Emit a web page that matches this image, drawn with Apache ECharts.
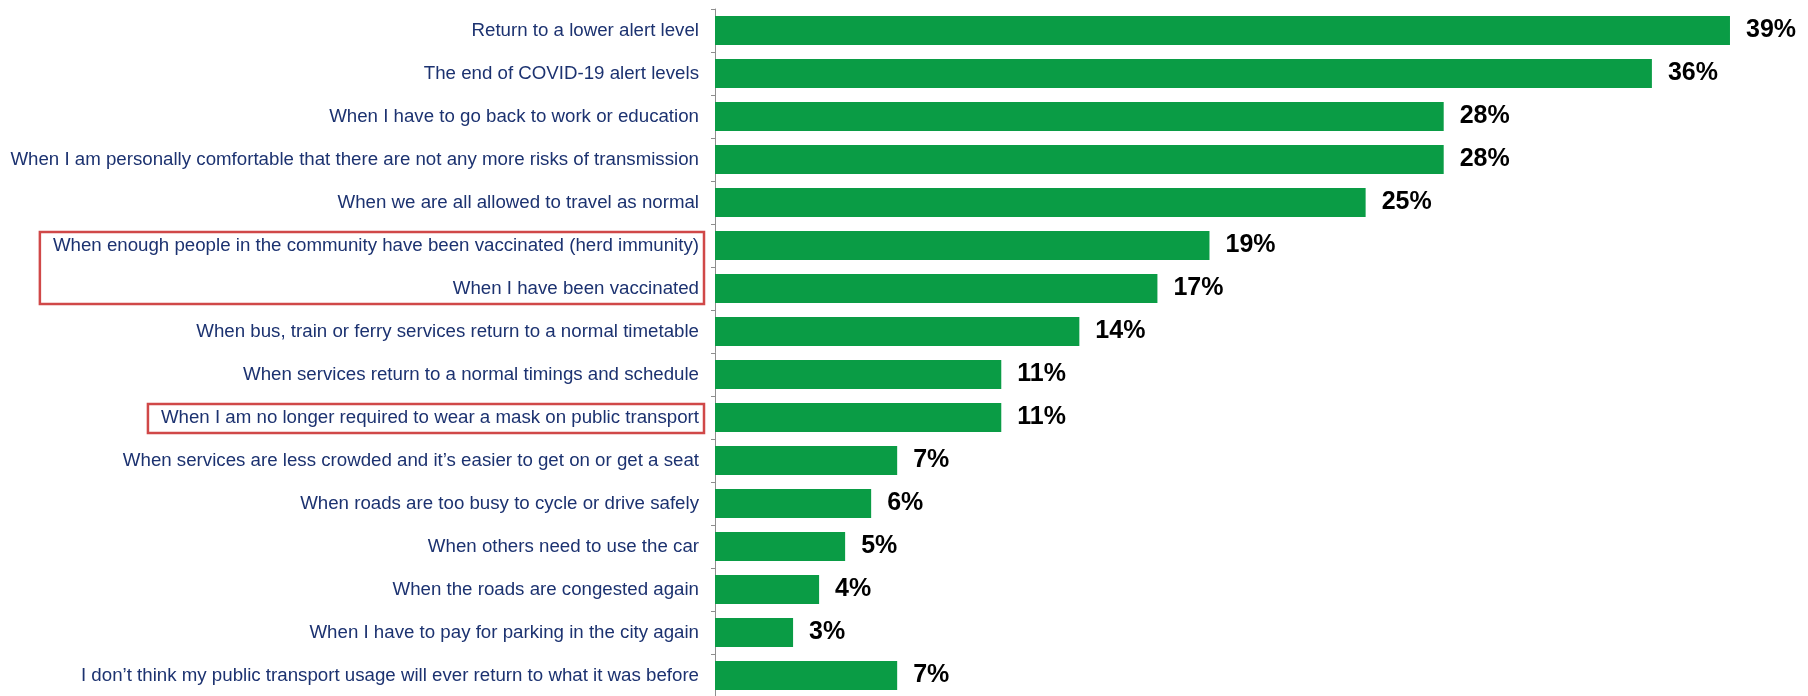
<!DOCTYPE html>
<html>
<head>
<meta charset="utf-8">
<script src="https://cdn.jsdelivr.net/npm/echarts@6/dist/echarts.min.js"></script>
<style>
  html, body { margin: 0; padding: 0; background: #ffffff; }
  #chart { width: 1808px; height: 696px; }
</style>
</head>
<body>
<div id="chart"></div>
<script>
// Reasons for returning to previous public transport usage (% of respondents)
const categories = [
  'Return to a lower alert level',
  'The end of COVID-19 alert levels',
  'When I have to go back to work or education',
  'When I am personally comfortable that there are not any more risks of transmission',
  'When we are all allowed to travel as normal',
  'When enough people in the community have been vaccinated (herd immunity)',
  'When I have been vaccinated',
  'When bus, train or ferry services return to a normal timetable',
  'When services return to a normal timings and schedule',
  'When I am no longer required to wear a mask on public transport',
  'When services are less crowded and it\u2019s easier to get on or get a seat',
  'When roads are too busy to cycle or drive safely',
  'When others need to use the car',
  'When the roads are congested again',
  'When I have to pay for parking in the city again',
  'I don\u2019t think my public transport usage will ever return to what it was before'
];
const values = [39, 36, 28, 28, 25, 19, 17, 14, 11, 11, 7, 6, 5, 4, 3, 7];

// Highlighted groups of rows (first index, last index)
const highlightGroups = [[5, 6], [9, 9]];

const LABEL_SIZE = 18.7;
const LABEL_FAMILY = '"Liberation Sans", Arial, sans-serif';
const LABEL_MARGIN = 16;

const chart = echarts.init(document.getElementById('chart'), null, { renderer: 'canvas' });

chart.setOption({
  animation: false,
  backgroundColor: '#ffffff',
  grid: { left: 715, right: 52, top: 9, height: 688, outerBoundsMode: 'none' },
  xAxis: {
    type: 'value', min: 0, max: 40, show: false,
    splitLine: { show: false }
  },
  yAxis: {
    type: 'category',
    inverse: true,
    data: categories,
    axisLine: { show: true, lineStyle: { color: '#8e8e8e', width: 1 } },
    axisTick: { show: true, length: 4, lineStyle: { color: '#8e8e8e' } },
    axisLabel: {
      margin: LABEL_MARGIN,
      color: '#1c3270',
      fontSize: LABEL_SIZE,
      fontFamily: LABEL_FAMILY
    }
  },
  series: [{
    type: 'bar',
    data: values,
    barCategoryGap: '33%',
    itemStyle: { color: '#0a9c45' },
    label: {
      show: true,
      position: 'right',
      distance: 16,
      formatter: '{c}%',
      color: '#000000',
      fontWeight: 'bold',
      fontSize: 25,
      fontFamily: LABEL_FAMILY
    }
  }]
});

// Red outline boxes around highlighted category labels
const ctx = document.createElement('canvas').getContext('2d');
ctx.font = LABEL_SIZE + 'px ' + LABEL_FAMILY;
const axisX = chart.convertToPixel({ gridIndex: 0 }, [0, 0])[0];
const textRight = axisX - LABEL_MARGIN;

const boxes = highlightGroups.map(function (g) {
  let maxW = 0;
  for (let i = g[0]; i <= g[1]; i++) {
    maxW = Math.max(maxW, ctx.measureText(categories[i]).width);
  }
  const yTop = chart.convertToPixel({ yAxisIndex: 0 }, g[0]) - 13.5;
  const yBot = chart.convertToPixel({ yAxisIndex: 0 }, g[1]) + 15.5;
  const x0 = textRight - maxW - 13;
  return {
    type: 'rect',
    shape: { x: x0, y: yTop, width: textRight + 5 - x0, height: yBot - yTop },
    style: { fill: 'none', stroke: '#d04848', lineWidth: 2.5 },
    z: 10
  };
});

chart.setOption({ graphic: boxes });
</script>
</body>
</html>
